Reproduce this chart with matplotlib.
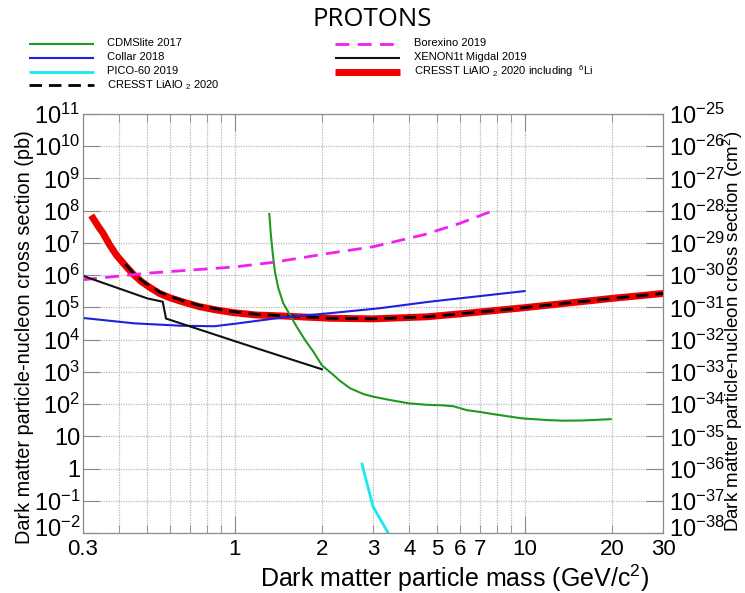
import numpy as np
import matplotlib
matplotlib.use("Agg")
import matplotlib.pyplot as plt
from matplotlib.lines import Line2D
from matplotlib.ticker import FixedLocator, FixedFormatter, NullFormatter
from matplotlib.transforms import ScaledTranslation

plt.rcParams['font.family'] = ['Liberation Sans', 'DejaVu Sans']
plt.rcParams['mathtext.fontset'] = 'custom'
plt.rcParams['mathtext.rm'] = 'Liberation Sans'
plt.rcParams['mathtext.it'] = 'Liberation Sans:italic'
plt.rcParams['mathtext.bf'] = 'Liberation Sans:bold'

# data (mass in GeV/c^2, cross section in pb)
cdms_m = [1.317, 1.332, 1.353, 1.377, 1.415, 1.472, 1.552, 1.637, 1.749, 1.869, 2.0, 2.19, 2.3, 2.5,
          2.78, 3.0, 3.43, 4.0, 4.59, 5.26, 5.7, 6.31, 7.0, 8.0, 9.8, 11.9, 13.6, 15.9, 19.8]
cdms_s = [7.9e7, 2.0e7, 4.75e6, 1.28e6, 3.9e5, 1.33e5, 5.8e4, 2.5e4, 9.7e3, 4.2e3, 1.6e3, 8e2, 5.4e2, 3.1e2,
          2.05e2, 1.7e2, 1.34e2, 1.05e2, 95, 91, 85, 65, 57, 47, 36, 32, 30.5, 31, 34]

collar_m = [0.3, 0.45, 0.65, 0.85, 1.0, 1.5, 2.13, 3.16, 4.7, 10.0]
collar_s = [4.7e4, 3.2e4, 2.7e4, 2.6e4, 3.1e4, 5.0e4, 6.6e4, 9.4e4, 1.5e5, 3.2e5]

pico_m = [2.75, 3.0, 3.42]
pico_s = [1.38, 0.066, 0.0085]

cresst_m = [0.42, 0.446, 0.477, 0.509, 0.551, 0.597, 0.664, 0.757, 0.865, 0.987, 1.19, 1.47,
            2.13, 3.0, 4.6, 6.0, 10.0, 20.0, 30.0]
cresst_s = [2.2e6, 1.2e6, 7e5, 4.6e5, 3.0e5, 2.2e5, 1.6e5, 1.15e5, 9e4, 7.4e4, 6.1e4, 5.5e4,
            4.6e4, 4.4e4, 5.1e4, 6.3e4, 9.8e4, 1.9e5, 2.7e5]

borex_m = [0.3, 0.5, 1.0, 1.36, 2.13, 3.0, 4.5, 6.0, 8.0]
borex_s = [7.2e5, 1.15e6, 1.8e6, 2.5e6, 4.8e6, 7.6e6, 1.8e7, 4.1e7, 1.1e8]

xenon_m = [0.3, 0.5, 0.565, 0.58, 1.0, 1.19, 2.0]
xenon_s = [9.5e5, 1.9e5, 1.5e5, 4.5e4, 9e3, 5.4e3, 1.2e3]

li6_m = [0.325, 0.338, 0.352, 0.371, 0.391, 0.418, 0.446, 0.477, 0.509, 0.551, 0.597, 0.664, 0.757,
         0.865, 0.987, 1.19, 1.47, 2.13, 3.0, 4.6, 6.0, 10.0, 20.0, 30.0]
li6_s = [5.8e7, 3.35e7, 1.98e7, 8.6e6, 4.2e6, 2.07e6, 1.09e6, 6.3e5, 4.2e5, 2.7e5, 2.0e5, 1.47e5, 1.05e5,
         8.3e4, 6.9e4, 5.8e4, 5.4e4, 4.6e4, 4.4e4, 5.1e4, 6.3e4, 9.8e4, 1.9e5, 2.7e5]

xtick_pos = [0.3, 1, 2, 3, 4, 5, 6, 7, 10, 20, 30]
xtick_lab = ['0.3', '1', '2', '3', '4', '5', '6', '7', '10', '20', '30']
xgrid_minor = [0.4, 0.5, 0.6, 0.7, 0.8, 0.9, 2, 3, 4, 5, 6, 7, 8, 9, 20]

yl_pos = 10.0 ** np.arange(-2, 12)
yl_lab = ['$10^{-2}$', '$10^{-1}$', '1', '10'] + ['$10^{%d}$' % k for k in range(2, 12)]
yr_pos = 10.0 ** np.arange(-38, -24)
yr_lab = ['$10^{%d}$' % k for k in range(-38, -24)]

st_cdms = dict(color='#1e9a1e', lw=1.5)
st_collar = dict(color='#1f1fe0', lw=1.5)
st_pico = dict(color='#19e8f0', lw=2)
st_cresst = dict(color='black', lw=2, ls=(0, (4.5, 2.5)))
st_borex = dict(color='#f020f0', lw=2, ls=(0, (5, 3)))
st_xenon = dict(color='#111111', lw=1.5)
st_li6 = dict(color='#ee0000', lw=5)

fig = plt.figure(figsize=(7.45, 5.93), dpi=100)
ax = fig.add_axes([83/745, 1 - 533/593, 580/745, 419/593])
ax.set_xscale('log')
ax.set_yscale('log')
ax.set_xlim(0.3, 30)
ax.set_ylim(1e-2, 1e11)

grey = '#8a8a8a'
for s in ax.spines.values():
    s.set_color(grey)

# x ticks: long ones at 1 and 10, short ones elsewhere
lab_map = dict(zip(xtick_pos, xtick_lab))
ax.xaxis.set_major_locator(FixedLocator([1, 10]))
ax.xaxis.set_major_formatter(FixedFormatter(['1', '10']))
minor_x = [0.3] + xgrid_minor + [30]
ax.xaxis.set_minor_locator(FixedLocator(minor_x))
ax.xaxis.set_minor_formatter(FixedFormatter([lab_map.get(p, '') for p in minor_x]))

ax.yaxis.set_major_locator(FixedLocator(yl_pos))
ax.yaxis.set_major_formatter(FixedFormatter(yl_lab))
ax.yaxis.set_minor_formatter(NullFormatter())

ax.tick_params(which='both', direction='in', top=True, right=False, color=grey)
ax.tick_params(axis='x', which='both', labelsize=16, pad=4)
ax.tick_params(axis='x', which='major', length=12)
ax.tick_params(axis='x', which='minor', length=6)
ax.tick_params(axis='y', which='major', length=12, pad=2, labelsize=17)
ax.tick_params(axis='y', which='minor', length=6)

ax.grid(True, which='major', axis='both', color='#b8b8b8', linestyle=(0, (1, 1)), linewidth=0.9)
ax.grid(True, which='minor', axis='x', color='#b8b8b8', linestyle=(0, (1, 1)), linewidth=0.9)
ax.set_axisbelow(True)

ax2 = ax.twinx()
ax2.set_yscale('log')
ax2.set_ylim(1e-38, 1e-25)
ax2.yaxis.set_major_locator(FixedLocator(yr_pos))
ax2.yaxis.set_major_formatter(FixedFormatter(yr_lab))
ax2.yaxis.set_minor_formatter(NullFormatter())
ax2.tick_params(which='both', direction='in', color=grey, labelsize=17)
ax2.tick_params(which='major', length=12, pad=4)
ax2.tick_params(which='minor', length=6)
for s in ax2.spines.values():
    s.set_color(grey)

# the bottom labels sit a little higher, clear of the x tick labels
lift = ScaledTranslation(0, 6 / 100, fig.dpi_scale_trans)
lab_lo = ax.yaxis.get_major_ticks()[0].label1
lab_lo.set_transform(lab_lo.get_transform() + lift)
lab_ro = ax2.yaxis.get_major_ticks()[0].label2
lab_ro.set_transform(lab_ro.get_transform() + lift)

ax.plot(li6_m, li6_s, zorder=3, **st_li6)
ax.plot(cresst_m, cresst_s, zorder=4, **st_cresst)
ax.plot(cdms_m, cdms_s, zorder=5, **st_cdms)
ax.plot(collar_m, collar_s, zorder=5, **st_collar)
ax.plot(pico_m, pico_s, zorder=5, **st_pico)
ax.plot(borex_m, borex_s, zorder=5, **st_borex)
ax.plot(xenon_m, xenon_s, zorder=5, **st_xenon)

# legend, laid out as in the original: two columns above the plot
legend_items = [
    (st_cdms, 'CDMSlite 2017', 0, 0),
    (st_collar, 'Collar 2018', 0, 1),
    (st_pico, 'PICO-60 2019', 0, 2),
    (st_cresst, 'CRESST LiAlO $_2$ 2020', 0, 3),
    (st_borex, 'Borexino 2019', 1, 0),
    (st_xenon, 'XENON1t Migdal 2019', 1, 1),
    (st_li6, 'CRESST LiAlO $_2$ 2020 including  $^6$Li', 1, 2),
]
col_x = [(29, 94, 107), (335, 400, 414)]
row_y = [43.5, 57.5, 71.5, 85]
for st, lab, c, r in legend_items:
    x0, x1, xt = col_x[c]
    y = 1 - row_y[r] / 593
    fig.add_artist(Line2D([x0 / 745, x1 / 745], [y, y], transform=fig.transFigure,
                          solid_capstyle='butt', dash_capstyle='butt', **st))
    fig.text(xt / 745, y, lab, fontsize=8, ha='left', va='center')

fig.text(372/745, 1 - 19/593, 'PROTONS', family='Open Sans', fontsize=18.5, ha='center', va='center')
fig.text(455/745, 1 - 578/593, 'Dark matter particle mass (GeV/c$^2$)', fontsize=18,
         ha='center', va='center')
fig.text(25/745, 1 - 337/593, 'Dark matter particle-nucleon cross section (pb)', fontsize=14.3,
         rotation=90, ha='center', va='center')
fig.text(733/745, 1 - 331/593, 'Dark matter particle-nucleon cross section (cm$^2$)', fontsize=13.5,
         rotation=90, ha='center', va='center')

fig.savefig('out.png', dpi=100)
